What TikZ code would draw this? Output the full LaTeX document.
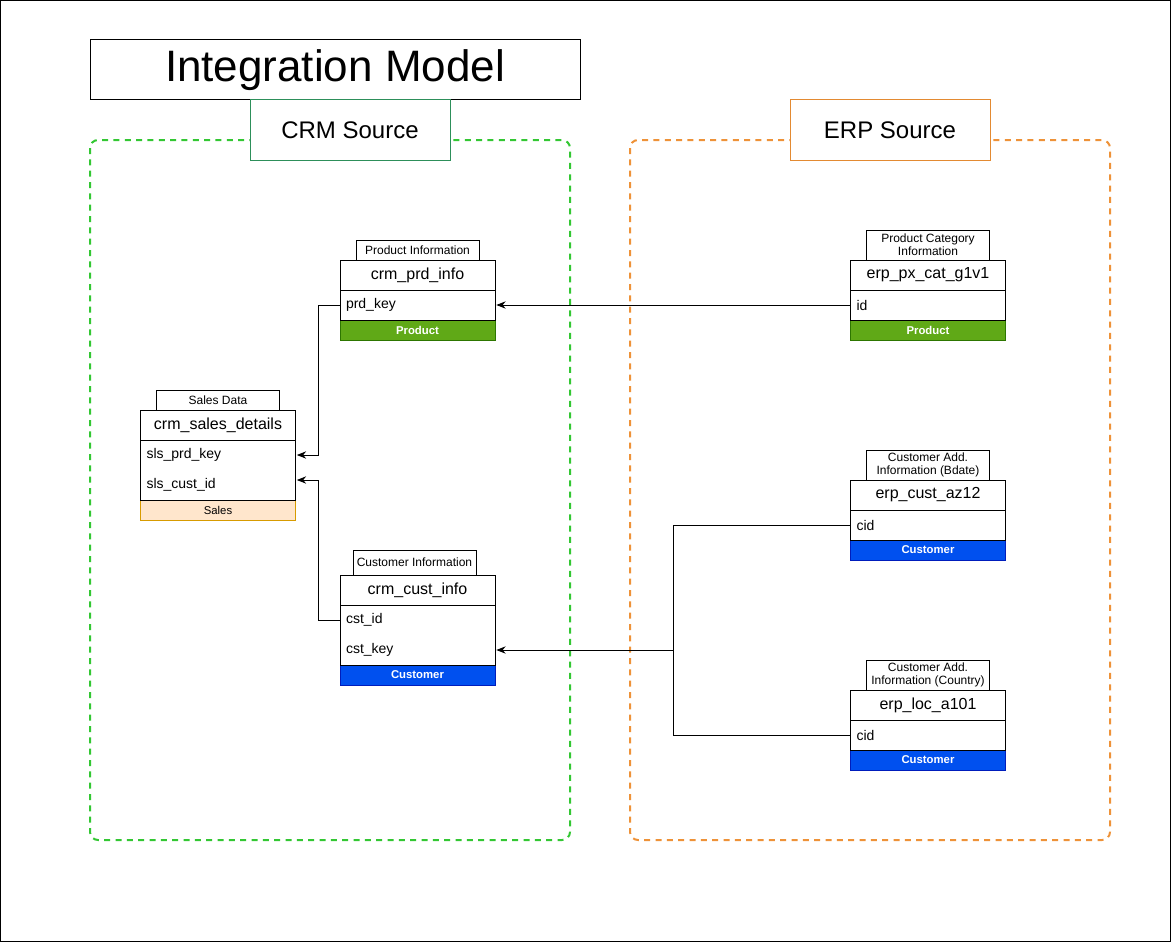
\documentclass[tikz,border=0pt]{standalone}
\usepackage{fontspec}
\setmainfont{Liberation Sans}
\usetikzlibrary{arrows.meta,positioning}
\definecolor{crmdash}{HTML}{33C733}
\definecolor{crmline}{HTML}{2D8F5A}
\definecolor{erpdash}{HTML}{EE9238}
\definecolor{erpline}{HTML}{E38A32}
\definecolor{prodfill}{HTML}{60A917}
\definecolor{prodline}{HTML}{2D7600}
\definecolor{custfill}{HTML}{0050EF}
\definecolor{custline}{HTML}{001DBC}
\definecolor{salesfill}{HTML}{FFE6CC}
\definecolor{salesline}{HTML}{D79B00}
\begin{document}
\begin{tikzpicture}[x=0.75pt,y=-0.75pt,line width=0.75pt]
        \tikzstyle{tabbox}=[draw,fill=white,minimum width=92.25pt,minimum height=15pt,inner sep=1pt,align=center,font=\fontsize{9}{10}\selectfont]
        \tikzstyle{tabletitle}=[draw,fill=white,minimum width=116.25pt,minimum height=22.5pt,inner sep=0pt,outer sep=0pt,font=\fontsize{12}{14}\selectfont]
        \tikzstyle{field}=[minimum height=22.5pt,text width=107.25pt,inner xsep=4.5pt,inner ysep=0pt,outer sep=0pt,align=left,font=\fontsize{10.5}{12}\selectfont]
        \tikzstyle{footer}=[draw,minimum width=116.25pt,minimum height=15pt,inner sep=0pt,outer sep=0pt,font=\bfseries\fontsize{8.5}{10}\selectfont,text=white]
        \tikzstyle{sourcebox}=[draw,fill=white,minimum width=150pt,minimum height=45pt,font=\fontsize{18}{20}\selectfont]
        \tikzstyle{fklink}=[draw,-{Stealth[length=7pt,width=5.5pt]},shorten >=1pt]
        \useasboundingbox (0,0) rectangle (1171,942);
        \draw (0.7,0.7) rectangle (1170.3,941.3);
        % source frames
        \draw[crmdash,line width=1.5pt,dash pattern=on 4.5pt off 4pt,rounded corners=6pt] (90,140) rectangle (570,840);
        \draw[erpdash,line width=1.5pt,dash pattern=on 4.5pt off 4pt,rounded corners=6pt] (630,140) rectangle (1110,840);
        \node [draw,minimum width=367.5pt,minimum height=45pt,font=\fontsize{33}{36}\selectfont] (title) at (335,70) {Integration Model};
        \node [sourcebox,draw=crmline] (crm) at (350,130) {CRM Source};
        \node [sourcebox,draw=erpline] (erp) at (890,130) {ERP Source};
        % crm tables
        \begin{scope}
         \node [tabbox] (prdtab) at (417.5,250) {Product Information};
         \node [tabletitle] (prdtitle) at (417.5,275) {crm\_prd\_info};
         \node [field] (prdkey) at (417.5,305) {prd\_key};
         \node [footer,fill=prodfill,draw=prodline] (prdfoot) at (417.5,330) {Product};
         \draw (prdtitle.south west) rectangle (prdfoot.north east);

         \node [tabbox] (slstab) at (218,400) {Sales Data};
         \node [tabletitle] (slstitle) at (218,425) {crm\_sales\_details};
         \node [field] (slsprd) at (218,455) {sls\_prd\_key};
         \node [field] (slscust) at (218,485) {sls\_cust\_id};
         \node [footer,fill=salesfill,draw=salesline,text=black,font=\fontsize{8.5}{10}\selectfont] (slsfoot) at (218,510) {Sales};
         \draw (slstitle.south west) rectangle (slsfoot.north east);

         \node [tabbox,minimum height=18.75pt] (csttab) at (414.5,562.5) {Customer Information};
         \node [tabletitle] (csttitle) at (417.5,590) {crm\_cust\_info};
         \node [field] (cstid) at (417.5,620) {cst\_id};
         \node [field] (cstkey) at (417.5,650) {cst\_key};
         \node [footer,fill=custfill,draw=custline] (cstfoot) at (417.5,675) {Customer};
         \draw (csttitle.south west) rectangle (cstfoot.north east);
        \end{scope}
        % erp tables
        \begin{scope}
         \node [tabbox,minimum height=22.5pt] (pxtab) at (928,245) {Product Category\\Information};
         \node [tabletitle] (pxtitle) at (928,275) {erp\_px\_cat\_g1v1};
         \node [field] (pxid) at (928,305) {id};
         \node [footer,fill=prodfill,draw=prodline] (pxfoot) at (928,330) {Product};
         \draw (pxtitle.south west) rectangle (pxfoot.north east);

         \node [tabbox,minimum height=22.5pt] (aztab) at (928,465) {Customer Add.\\Information (Bdate)};
         \node [tabletitle] (aztitle) at (928,495) {erp\_cust\_az12};
         \node [field] (azcid) at (928,525) {cid};
         \node [footer,fill=custfill,draw=custline] (azfoot) at (928,550) {Customer};
         \draw (aztitle.south west) rectangle (azfoot.north east);

         \node [tabbox,minimum height=22.5pt] (loctab) at (928,675) {Customer Add.\\Information (Country)};
         \node [tabletitle] (loctitle) at (928,705) {erp\_loc\_a101};
         \node [field] (loccid) at (928,735) {cid};
         \node [footer,fill=custfill,draw=custline] (locfoot) at (928,760) {Customer};
         \draw (loctitle.south west) rectangle (locfoot.north east);
        \end{scope}
        % links
        \coordinate (custjoin) at (673,650);
        \path[fklink] (pxid.west) -- (prdkey.east);
        \path[fklink] (prdkey.west) -- ++(-22,0) |- (slsprd.east);
        \path[fklink] (cstid.west) -- ++(-22,0) |- ([yshift=3.75pt]slscust.east);
        \path[fklink] (azcid.west) -| (custjoin) -- (cstkey.east);
        \draw (loccid.west) -| (custjoin);
\end{tikzpicture}
\end{document}
